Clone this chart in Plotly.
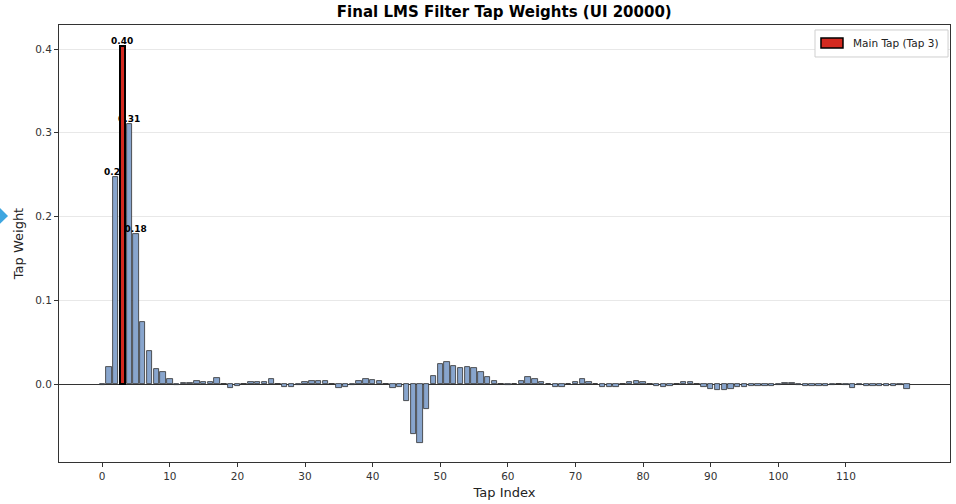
import plotly.graph_objects as go

tap_index = list(range(120))
tap_weights = [
    -0.001, 0.021, 0.247, 0.404, 0.311, 0.179, 0.074, 0.039, 0.018, 0.014,
    0.006, -0.001, 0.001, 0.001, 0.004, 0.003, 0.003, 0.007, 0.000, -0.005,
    -0.002, 0.000, 0.003, 0.003, 0.003, 0.006, 0.000, -0.004, -0.003, -0.001,
    0.003, 0.004, 0.004, 0.004, 0.000, -0.005, -0.004, -0.001, 0.004, 0.006,
    0.005, 0.004, 0.000, -0.005, -0.004, -0.020, -0.059, -0.070, -0.030, 0.010,
    0.024, 0.026, 0.022, 0.019, 0.020, 0.019, 0.014, 0.009, 0.004, 0.000,
    -0.001, 0.000, 0.004, 0.008, 0.006, 0.003, 0.000, -0.003, -0.003, 0.000,
    0.003, 0.006, 0.003, 0.000, -0.003, -0.004, -0.003, 0.000, 0.002, 0.004,
    0.003, 0.000, -0.002, -0.003, -0.002, 0.000, 0.002, 0.003, 0.000, -0.003,
    -0.006, -0.007, -0.007, -0.006, -0.004, -0.003, -0.002, -0.002, -0.002, -0.002,
    -0.001, 0.001, 0.001, -0.001, -0.002, -0.002, -0.002, -0.002, -0.001, 0.000,
    -0.001, -0.005, -0.001, -0.002, -0.002, -0.002, -0.002, -0.002, -0.001, -0.006,
]
main_tap = 3
label_threshold = 0.1
x_ticks = list(range(0, 120, 10))
y_ticks = [0.0, 0.1, 0.2, 0.3, 0.4]

labels = [f"{w:.2f}" if abs(w) > label_threshold else "" for w in tap_weights]
legend_label = f"Main Tap (Tap {main_tap})"

FONT = "DejaVu Sans"
RED = "#d42a20"

fig = go.Figure()
fig.add_trace(go.Bar(
    x=tap_index, y=tap_weights, width=0.8,
    marker=dict(color="#88a5cd", line=dict(color="#2e2e2e", width=0.8)),
    text=labels, textposition="outside", constraintext="none",
    textfont=dict(family=FONT, size=9, color="black", weight="bold"),
    cliponaxis=False, showlegend=False, hoverinfo="x+y",
))
fig.add_trace(go.Bar(
    x=[tap_index[main_tap]], y=[tap_weights[main_tap]], width=0.8,
    marker=dict(color=RED, line=dict(color="black", width=2)),
    name=legend_label, showlegend=False,
))

# legend drawn matplotlib-style (wide swatch)
fig.add_shape(type="rect", xref="paper", yref="paper",
              x0=0.8485, x1=0.9978, y0=0.9268, y1=0.9886,
              fillcolor="white", line=dict(color="#cfcfcf", width=1))
fig.add_shape(type="rect", xref="paper", yref="paper",
              x0=0.8552, x1=0.8799, y0=0.9474, y1=0.9703,
              fillcolor=RED, line=dict(color="black", width=1.5))
fig.add_annotation(xref="paper", yref="paper", x=0.8889, y=0.9588,
                   xanchor="left", yanchor="middle", showarrow=False,
                   text=legend_label,
                   font=dict(family=FONT, size=10.5, color="#222222"))

# small marker at left edge seen in the reference screenshot
fig.add_shape(type="path", xref="paper", yref="paper",
              path="M -0.0662 0.581 L -0.0572 0.563 L -0.0662 0.545 Z",
              fillcolor="#3ea6e0", line=dict(width=0))

fig.update_layout(
    width=956, height=504,
    margin=dict(l=59, r=6, t=25, b=42),
    paper_bgcolor="white", plot_bgcolor="white",
    barmode="overlay", bargap=0, showlegend=False,
    font=dict(family=FONT, color="#333333", size=10),
    title=dict(text="<b>Final LMS Filter Tap Weights (UI 20000)</b>",
               x=0.5275, xanchor="center", y=0.976, yanchor="middle",
               font=dict(family=FONT, size=15, color="black")),
    xaxis=dict(range=[-6.39, 125.39], tickvals=x_ticks,
               showgrid=False, zeroline=False,
               showline=True, linecolor="#333333", linewidth=1, mirror=True,
               ticks="outside", ticklen=4, tickcolor="#333333",
               tickfont=dict(size=10.5, color="#333333"),
               title=dict(text="Tap Index", font=dict(size=13, color="#222222"), standoff=7)),
    yaxis=dict(range=[-0.093, 0.4287], tickvals=y_ticks, tickformat=".1f",
               showgrid=True, gridcolor="#e8e8e8", gridwidth=1,
               zeroline=True, zerolinecolor="#333333", zerolinewidth=1,
               showline=True, linecolor="#333333", linewidth=1, mirror=True,
               ticks="outside", ticklen=4, tickcolor="#333333",
               tickfont=dict(size=10.5, color="#333333"),
               title=dict(text="Tap Weight", font=dict(size=13, color="#222222"), standoff=8)),
)

fig.write_html("out.html")
